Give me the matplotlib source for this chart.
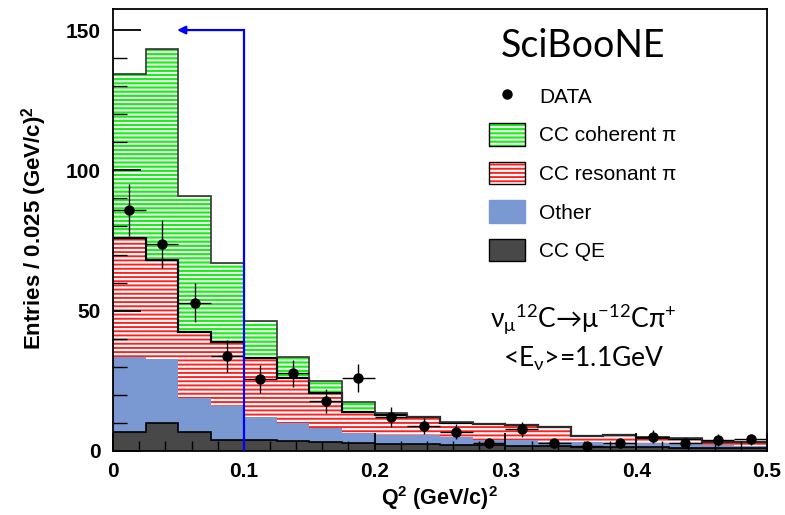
import numpy as np
import matplotlib
matplotlib.use('Agg')
import matplotlib.pyplot as plt
from matplotlib.patches import Patch
from matplotlib.lines import Line2D

plt.rcParams['font.family'] = ['Liberation Sans', 'DejaVu Sans']
plt.rcParams['mathtext.fontset'] = 'custom'
plt.rcParams['mathtext.rm'] = 'Lato'
plt.rcParams['mathtext.it'] = 'Lato'
plt.rcParams['mathtext.bf'] = 'Liberation Sans:bold'
plt.rcParams['hatch.linewidth'] = 1.4

# Binning: 20 bins of 0.025 (GeV/c)^2 between 0 and 0.5
bin_width = 0.025
n_bins = 20

# Stacked MC (cumulative tops of each layer)
cc_qe = [6.7, 10.1, 6.7, 3.9, 3.9, 3.5, 3.3, 2.7, 2.5, 2.4, 2.2, 2.0, 1.8, 1.7, 1.5, 1.4, 1.3, 1.1, 1.0, 0.9]
other = [33.6, 32.7, 18.8, 16.0, 12.2, 9.9, 8.1, 6.5, 5.7, 5.6, 5.1, 3.9, 3.9, 3.3, 3.2, 2.9, 2.7, 2.4, 2.1, 1.8]
resonant = [75.8, 68.0, 42.5, 38.7, 33.3, 26.1, 20.6, 14.0, 12.8, 12.0, 10.0, 9.5, 9.2, 8.6, 5.2, 5.6, 4.8, 4.4, 3.2, 3.2]
coherent = [134.4, 143.2, 90.9, 67.1, 46.4, 33.6, 25.0, 17.3, 13.6, 12.2, 10.2, 9.6, 9.3, 8.7, 5.3, 5.7, 4.9, 4.5, 3.3, 3.3]

# Data
data = [85.8, 73.7, 52.9, 33.9, 25.7, 27.7, 17.8, 25.9, 12.0, 8.9, 6.9, 2.7, 7.7, 2.7, 1.9, 2.7, 5.1, 2.7, 3.9, 4.2]
data_err = [9.3, 8.6, 6.9, 5.7, 5.0, 4.8, 4.2, 5.0, 3.5, 3.0, 2.6, 1.6, 2.8, 1.6, 1.4, 1.6, 2.3, 1.6, 2.0, 2.0]

edges = np.arange(n_bins + 1) * bin_width
centers = edges[:-1] + bin_width / 2

fig = plt.figure(figsize=(7.85, 5.15), dpi=100)
ax = fig.add_axes([0.144, 0.1243, 0.833, 0.8582])

green = '#1aee1a'
red = '#ff2020'
blue = '#7a98d2'
grey = '#484848'
coh_hatch = '----'
res_hatch = '----'

zero = np.zeros(n_bins)
ax.stairs(cc_qe, edges, baseline=zero, fill=True, facecolor=grey, edgecolor=grey, lw=0)
ax.stairs(other, edges, baseline=cc_qe, fill=True, facecolor=blue, edgecolor=blue, lw=0)
ax.stairs(resonant, edges, baseline=other, fill=True, facecolor='white', edgecolor=red, hatch=res_hatch, lw=0)
ax.stairs(coherent, edges, baseline=resonant, fill=True, facecolor=green, edgecolor='white', hatch=coh_hatch, lw=0)

# outlines
ax.stairs(cc_qe, edges, baseline=None, color='black', lw=1.2)
ax.stairs(resonant, edges, baseline=None, color='black', lw=1.6)
ax.stairs(coherent, edges, baseline=None, color='#333333', lw=1.2)

ax.errorbar(centers, data, yerr=data_err, xerr=bin_width / 2, fmt='o', color='black',
            ms=6.5, elinewidth=1.0, capsize=0, zorder=5)

# Q2 < 0.1 cut arrow
ax.plot([0.1, 0.1], [0, 150], color='#0000ff', lw=1.6, zorder=6)
ax.annotate('', xy=(0.049, 150), xytext=(0.1, 150),
            arrowprops=dict(arrowstyle='-|>', color='#0000ff', lw=1.6, mutation_scale=12,
                            shrinkA=0, shrinkB=0), zorder=6)

ax.set_xlim(0, 0.5)
ax.set_ylim(0, 157.5)
ax.set_xticks([0, 0.1, 0.2, 0.3, 0.4, 0.5])
ax.set_xticklabels(['0', '0.1', '0.2', '0.3', '0.4', '0.5'])
ax.set_xticks(np.arange(0, 0.5, 0.02), minor=True)
ax.set_yticks([0, 50, 100, 150])
ax.set_yticks(np.arange(0, 158, 10), minor=True)
ax.tick_params(axis='both', which='both', direction='in', labelsize=15)
ax.tick_params(axis='y', which='major', length=20, width=1.3, pad=9)
ax.tick_params(axis='y', which='minor', length=10, width=1.0)
ax.tick_params(axis='x', which='major', length=13, width=1.3, pad=8)
ax.tick_params(axis='x', which='minor', length=7, width=1.0)
for lab in ax.get_xticklabels() + ax.get_yticklabels():
    lab.set_fontweight('bold')
for s in ax.spines.values():
    s.set_linewidth(1.3)

ax.set_xlabel(r'Q$^\mathbf{2}$ (GeV/c)$^\mathbf{2}$', fontsize=15.5, fontweight='bold', va='center')
ax.xaxis.set_label_coords(0.50, -0.108)
ax.set_ylabel(r'Entries / 0.025 (GeV/c)$^\mathbf{2}$', fontsize=16, fontweight='bold', va='center')
ax.yaxis.set_label_coords(-0.119, 0.505)

# Legend
handles = [
    Line2D([], [], marker='o', color='black', ls='none', ms=6.5),
    (Patch(facecolor=green, edgecolor='white', hatch=coh_hatch, lw=0), Patch(fill=False, edgecolor='black', lw=1)),
    (Patch(facecolor='white', edgecolor=red, hatch=res_hatch, lw=0), Patch(fill=False, edgecolor='black', lw=1)),
    Patch(facecolor=blue, edgecolor=blue),
    Patch(facecolor=grey, edgecolor='black'),
]
labels = ['DATA', 'CC coherent π', 'CC resonant π', 'Other', 'CC QE']
ax.legend(handles, labels, loc='upper left', bbox_to_anchor=(0.575, 0.829), frameon=False,
          borderpad=0, borderaxespad=0, fontsize=15, handlelength=1.73, handleheight=1.3,
          labelspacing=0.76, handletextpad=0.67)

ax.text(0.719, 0.891, 'SciBooNE', transform=ax.transAxes, ha='center', va='baseline',
        fontsize=27, family='Lato')
ax.text(0.719, 0.278, r'ν$_\mu$$^{12}$C→μ$^{-12}$Cπ$^{+}$',
        transform=ax.transAxes, ha='center', va='baseline', fontsize=19,
        family=['Lato', 'DejaVu Sans'])
ax.text(0.719, 0.19, r'<E$_\nu$>=1.1GeV',
        transform=ax.transAxes, ha='center', va='baseline', fontsize=19,
        family=['Lato', 'DejaVu Sans'])

fig.savefig('out.png', dpi=100)
